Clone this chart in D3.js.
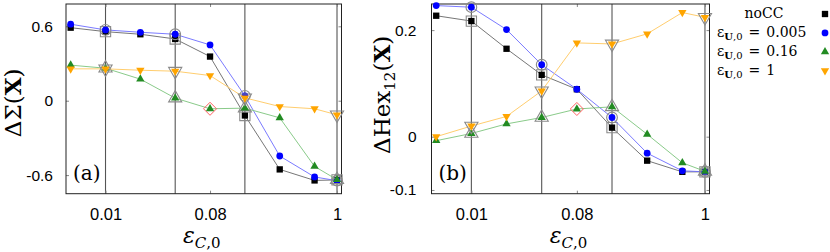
<!DOCTYPE html>
<html>
<head>
<meta charset="utf-8">
<script src="https://cdn.jsdelivr.net/npm/d3@7"></script>
<style>
  body { margin: 0; background: #fff; }
  svg { display: block; }
  .tick text { font-family: "Liberation Sans", Arial, sans-serif; fill: #000; }
  .tick line { stroke: #888; }
</style>
</head>
<body>
<div id="chart"></div>
<script>
// x values (epsilon_C,0), same for both panels
const epsC = [0.005, 0.01, 0.02, 0.04, 0.08, 0.16, 0.32, 0.64, 1];

// panel (a): Delta Sigma(X)
const sigmaNoCC = [0.589, 0.557, 0.536, 0.498, 0.356, -0.119, -0.554, -0.643, -0.639];
const sigmaU005 = [0.617, 0.571, 0.552, 0.536, 0.450, 0.039, -0.446, -0.615, -0.645];
const sigmaU016 = [0.287, 0.262, 0.174, 0.021, -0.065, -0.060, -0.138, -0.530, -0.637];
const sigmaU1   = [0.257, 0.257, 0.246, 0.238, 0.203, 0.023, -0.047, -0.065, -0.114];

// panel (b): Delta Hex_12(X)
const hexNoCC = [0.227, 0.217, 0.165, 0.116, 0.089, 0.017, -0.045, -0.066, -0.066];
const hexU005 = [0.246, 0.243, 0.201, 0.135, 0.089, 0.036, -0.031, -0.064, -0.066];
const hexU016 = [-0.0075, 0.006, 0.024, 0.036, 0.052, 0.056, 0.0045, -0.049, -0.065];
const hexU1   = [0.000, 0.020, 0.038, 0.086, 0.176, 0.174, 0.193, 0.233, 0.224];

// ticks
const xTicks = [0.01, 0.08, 1];
const sigmaTicks = [0.6, 0, -0.6];
const hexTicks = [0.2, 0, -0.1];

// highlighted points (vertical lines + gray open markers) and red diamond
const highlightEps = [0.01, 0.04, 0.16, 1];
const diamondEps = 0.08;

// legend
const legendValues = [null, "0.005", "0.16", "1"];
const markerColors = ["#000000", "#0000ff", "#228b22", "#ffa500"];
const lineColors = ["#666666", "#6b6bff", "#7cc47c", "#ffc75e"];
const shapes = [d3.symbolSquare, d3.symbolCircle, d3.symbolTriangle, d3.symbolTriangle];
const flipped = [false, false, false, true];
const markSize = [40, 36, 30, 30];
const hlSize = [105, 90, 75, 75];

const width = 830, height = 252;
const svg = d3.select("#chart").append("svg")
    .attr("width", width)
    .attr("height", height);
svg.append("rect").attr("width", width).attr("height", height).attr("fill", "#fff");

function symbolPath(i, size) {
    return d3.symbol().type(shapes[i]).size(size)();
}

function drawPanel(opts) {
    const left = opts.left, right = opts.right, top = 4, bottom = 193.7;
    // small pad beyond 0.005 and 1 like the reference
    const x = d3.scaleLog()
        .domain([0.005 * Math.pow(2, -0.134), Math.pow(2, 0.129)])
        .range([left, right]);
    const y = d3.scaleLinear().domain(opts.yDomain).range([bottom, top]);

    const g = svg.append("g");

    // vertical guide lines
    g.selectAll(".vline").data(highlightEps).enter().append("line")
        .attr("x1", d => x(d)).attr("x2", d => x(d))
        .attr("y1", top).attr("y2", bottom)
        .attr("stroke", "#555").attr("stroke-width", 1.1);

    // axes (inward ticks, mirrored)
    const fmt = d => String(d);
    g.append("g").attr("transform", `translate(${left},0)`)
        .call(d3.axisLeft(y).tickValues(opts.yTicks).tickSize(-3).tickPadding(opts.pad).tickFormat(fmt))
        .call(a => a.selectAll("text").attr("font-size", 15.5));
    g.append("g").attr("transform", `translate(${right},0)`)
        .call(d3.axisRight(y).tickValues(opts.yTicks).tickSize(-3).tickFormat(""));
    g.append("g").attr("transform", `translate(0,${bottom})`)
        .call(d3.axisBottom(x).tickValues(xTicks).tickSize(-3).tickPadding(15).tickFormat(fmt))
        .call(a => a.selectAll("text").attr("font-size", 16.5));
    g.append("g").attr("transform", `translate(0,${top})`)
        .call(d3.axisTop(x).tickValues(xTicks).tickSize(-3).tickFormat(""));
    g.selectAll(".domain").remove();

    g.append("rect")
        .attr("x", left).attr("y", top)
        .attr("width", right - left).attr("height", bottom - top)
        .attr("fill", "none").attr("stroke", "#222").attr("stroke-width", 1);

    const line = d3.line().x(d => x(d[0])).y(d => y(d[1]));

    opts.series.forEach((vals, i) => {
        const pts = epsC.map((e, k) => [e, vals[k]]);
        g.append("path").datum(pts)
            .attr("d", line)
            .attr("fill", "none")
            .attr("stroke", lineColors[i])
            .attr("stroke-width", 0.9);
        g.selectAll(".m" + i).data(pts).enter().append("path")
            .attr("d", symbolPath(i, markSize[i]))
            .attr("transform", d => `translate(${x(d[0])},${y(d[1])})` + (flipped[i] ? " rotate(180)" : ""))
            .attr("fill", markerColors[i]);
        // gray open markers around highlighted points
        g.selectAll(".h" + i).data(pts.filter(d => highlightEps.includes(d[0]))).enter().append("path")
            .attr("d", symbolPath(i, hlSize[i]))
            .attr("transform", d => `translate(${x(d[0])},${y(d[1])})` + (flipped[i] ? " rotate(180)" : ""))
            .attr("fill", "none")
            .attr("stroke", "#8a8a8a")
            .attr("stroke-width", 1.1);
    });

    // red diamond on the green series
    const k = epsC.indexOf(diamondEps);
    g.append("path")
        .attr("d", d3.symbol().type(d3.symbolSquare).size(85)())
        .attr("transform", `translate(${x(diamondEps)},${y(opts.series[2][k])}) rotate(45)`)
        .attr("fill", "none")
        .attr("stroke", "#ff5a5a")
        .attr("stroke-width", 0.9);

    // panel tag
    g.append("text")
        .attr("x", left + 7).attr("y", 180)
        .attr("font-family", "DejaVu Serif, serif").attr("font-size", 20)
        .text(opts.tag);

    // y label (rotated)
    const yl = g.append("text")
        .attr("transform", `translate(${opts.ylabX},${(top + bottom) / 2 + opts.ylabShift}) rotate(-90)`)
        .attr("text-anchor", "middle")
        .attr("font-family", "DejaVu Serif, serif").attr("font-size", 23);
    opts.ylab(yl);

    // x label
    const xl = g.append("text")
        .attr("x", (left + right) / 2 - 2).attr("y", 243)
        .attr("text-anchor", "middle")
        .attr("font-family", "DejaVu Serif, serif").attr("font-size", 22);
    xl.append("tspan").attr("font-style", "italic").text("ε");
    xl.append("tspan").attr("font-size", 15).attr("dy", 5).attr("font-style", "italic").text("C");
    xl.append("tspan").attr("font-size", 15).text(",0");
}

drawPanel({
    left: 66, right: 341.5, yDomain: [-0.75, 0.78], yTicks: sigmaTicks, pad: 13,
    series: [sigmaNoCC, sigmaU005, sigmaU016, sigmaU1], tag: "(a)",
    ylabX: 21, ylabShift: 4,
    ylab: t => {
        t.append("tspan").text("ΔΣ(");
        t.append("tspan").attr("font-weight", "bold").text("X");
        t.append("tspan").text(")");
    }
});

drawPanel({
    left: 431.5, right: 709.5, yDomain: [-0.107, 0.249], yTicks: hexTicks, pad: 15,
    series: [hexNoCC, hexU005, hexU016, hexU1], tag: "(b)",
    ylabX: 390, ylabShift: -4,
    ylab: t => {
        t.append("tspan").text("ΔHex");
        t.append("tspan").attr("font-size", 15).attr("dy", 5).text("12");
        t.append("tspan").attr("dy", -5).text("(");
        t.append("tspan").attr("font-weight", "bold").text("X");
        t.append("tspan").text(")");
    }
});

// legend
const leg = svg.append("g");
legendValues.forEach((v, i) => {
    const my = 14 + i * 18.9;
    const t = leg.append("text")
        .attr("y", my + 4)
        .attr("font-family", "DejaVu Serif, serif").attr("font-size", 14);
    if (v === null) {
        t.attr("x", 764).attr("text-anchor", "middle").text("noCC");
    } else {
        t.attr("x", 717);
        t.append("tspan").text("ε");
        t.append("tspan").attr("font-size", 10).attr("dy", 3).attr("font-weight", "bold").text("U");
        t.append("tspan").attr("font-size", 10).text(",0");
        t.append("tspan").attr("dy", -3).attr("dx", 6).text("=");
        t.append("tspan").attr("dx", 6).text(v);
    }
    leg.append("path")
        .attr("d", symbolPath(i, markSize[i]))
        .attr("transform", `translate(825,${my})` + (flipped[i] ? " rotate(180)" : ""))
        .attr("fill", markerColors[i]);
});
</script>
</body>
</html>
